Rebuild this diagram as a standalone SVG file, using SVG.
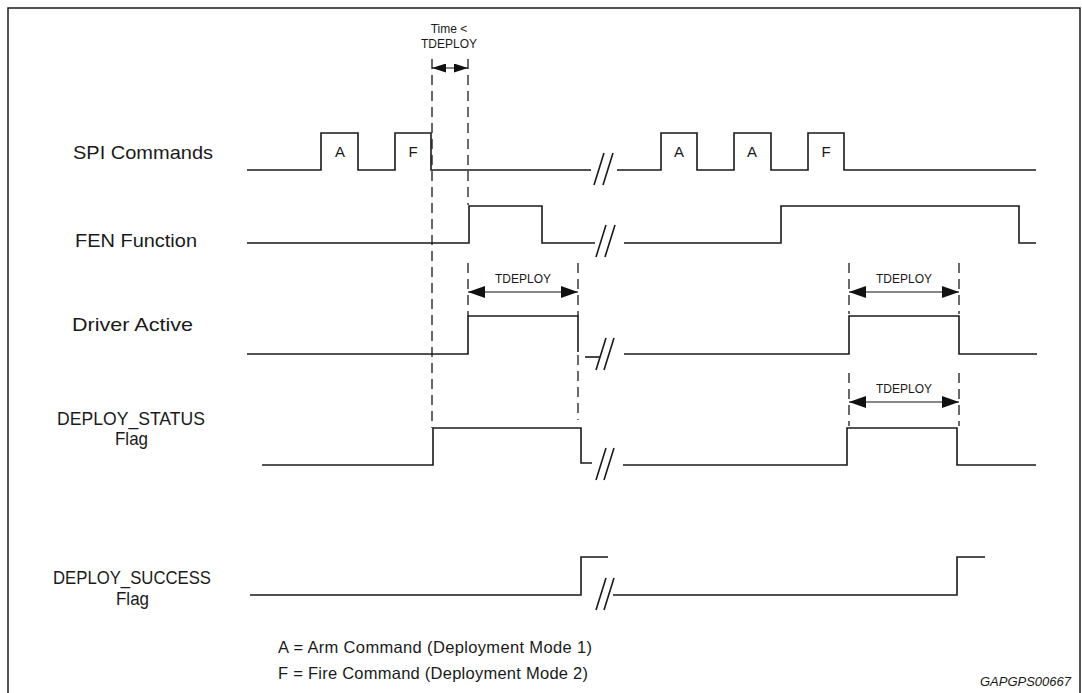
<svg xmlns="http://www.w3.org/2000/svg" width="1082" height="693" viewBox="0 0 1082 693">
<defs>
<marker id="ah" markerUnits="userSpaceOnUse" markerWidth="17" markerHeight="12" refX="17" refY="6" orient="auto-start-reverse"><path d="M0,0 L17,6 L0,12 z" fill="#111"/></marker>
<marker id="ahs" markerUnits="userSpaceOnUse" markerWidth="14" markerHeight="9" refX="14" refY="4.5" orient="auto-start-reverse"><path d="M0,0 L14,4.5 L0,9 z" fill="#111"/></marker>
</defs>
<style>
.w{fill:none;stroke:#1a1a1a;stroke-width:1.6}
.d{fill:none;stroke:#1a1a1a;stroke-width:1.3;stroke-dasharray:10 6}
.a{fill:none;stroke:#111;stroke-width:1.1}
.lbl{font-family:"Liberation Sans",Arial,sans-serif;font-size:19px;fill:#1a1a1a}
.sm{font-family:"Liberation Sans",Arial,sans-serif;font-size:12px;fill:#1a1a1a}
.pl{font-family:"Liberation Sans",Arial,sans-serif;font-size:15px;fill:#1a1a1a;text-anchor:middle}
.lg{font-family:"Liberation Sans",Arial,sans-serif;font-size:16.5px;fill:#1a1a1a}
</style>
<rect width="1082" height="693" fill="#fff"/>
<rect x="8" y="8" width="1072" height="700" fill="none" stroke="#1a1a1a" stroke-width="1.5"/>

<g id="labels">
<text class="lbl" x="73" y="159" textLength="140" lengthAdjust="spacingAndGlyphs">SPI Commands</text>
<text class="lbl" x="75" y="247" textLength="122" lengthAdjust="spacingAndGlyphs">FEN Function</text>
<text class="lbl" x="72" y="331" textLength="121" lengthAdjust="spacingAndGlyphs">Driver Active</text>
<text class="lbl" x="57" y="425" textLength="148" lengthAdjust="spacingAndGlyphs">DEPLOY_STATUS</text>
<text class="lbl" x="115" y="445" textLength="33" lengthAdjust="spacingAndGlyphs">Flag</text>
<text class="lbl" x="53" y="584" textLength="158" lengthAdjust="spacingAndGlyphs">DEPLOY_SUCCESS</text>
<text class="lbl" x="116" y="605" textLength="33" lengthAdjust="spacingAndGlyphs">Flag</text>
</g>

<g id="spi">
<path class="w" d="M247,170 H321 V133 H358 V170 H395 V133 H431 V170 H591"/>
<path class="w" d="M594,185 L604,153 M603,185 L613,153"/>
<path class="w" d="M617,170 H661 V133 H697 V170 H734 V133 H771 V170 H808 V133 H844 V170 H1036"/>
<text class="pl" x="340" y="157">A</text>
<text class="pl" x="413" y="157">F</text>
<text class="pl" x="679" y="157">A</text>
<text class="pl" x="752" y="157">A</text>
<text class="pl" x="826" y="157">F</text>
</g>

<g id="fen">
<path class="w" d="M247,243 H469 V206 H542 V243 H595"/>
<path class="w" d="M596,257 L606,225 M605,257 L615,225"/>
<path class="w" d="M624,243 H781 V206 H1019 V243 H1036"/>
</g>

<g id="driver">
<path class="w" d="M247,354 H468 V316 H578 V352"/>
<path class="w" d="M585,357 H600"/>
<path class="w" d="M596,370 L606,338 M604,370 L614,338"/>
<path class="w" d="M624,354 H849 V316 H959 V354 H1037"/>
</g>

<g id="status">
<path class="w" d="M262,465 H433 V428 H581 V463 H592"/>
<path class="w" d="M596,480 L606,448 M604,480 L614,448"/>
<path class="w" d="M623,465 H847 V428 H957 V465 H1036"/>
</g>

<g id="success">
<path class="w" d="M250,595 H581 V557 H608"/>
<path class="w" d="M596,610 L606,578 M604,610 L614,578"/>
<path class="w" d="M613,595 H957 V557 H985"/>
</g>

<g id="connectors">
<path class="d" d="M432,59 V428"/>
<path class="d" d="M468,59 V205"/>
<path class="d" d="M468,263 V316"/>
<path class="d" d="M578,263 V316 M578,355 V420"/>
<path class="d" d="M849,263 V314 M849,373 V426"/>
<path class="d" d="M959,263 V314 M959,373 V426"/>
<path class="a" d="M432,68 H468" marker-start="url(#ahs)" marker-end="url(#ahs)"/>
<path class="a" d="M468,292 H578" marker-start="url(#ah)" marker-end="url(#ah)"/>
<path class="a" d="M849,292 H959" marker-start="url(#ah)" marker-end="url(#ah)"/>
<path class="a" d="M849,402 H959" marker-start="url(#ah)" marker-end="url(#ah)"/>
</g>

<g id="annotations">
<text class="sm" x="449" y="33" text-anchor="middle">Time &lt;</text>
<text class="sm" x="449" y="48" text-anchor="middle">TDEPLOY</text>
<text class="sm" x="523" y="283" text-anchor="middle">TDEPLOY</text>
<text class="sm" x="904" y="283" text-anchor="middle">TDEPLOY</text>
<text class="sm" x="904" y="393" text-anchor="middle">TDEPLOY</text>
<text class="lg" x="278" y="653" textLength="314" lengthAdjust="spacing">A = Arm Command (Deployment Mode 1)</text>
<text class="lg" x="278" y="679" textLength="310" lengthAdjust="spacing">F = Fire Command (Deployment Mode 2)</text>
<text x="1071" y="686" text-anchor="end" font-family="'Liberation Sans',Arial,sans-serif" font-size="13" font-style="italic" fill="#1a1a1a">GAPGPS00667</text>
</g>
</svg>
